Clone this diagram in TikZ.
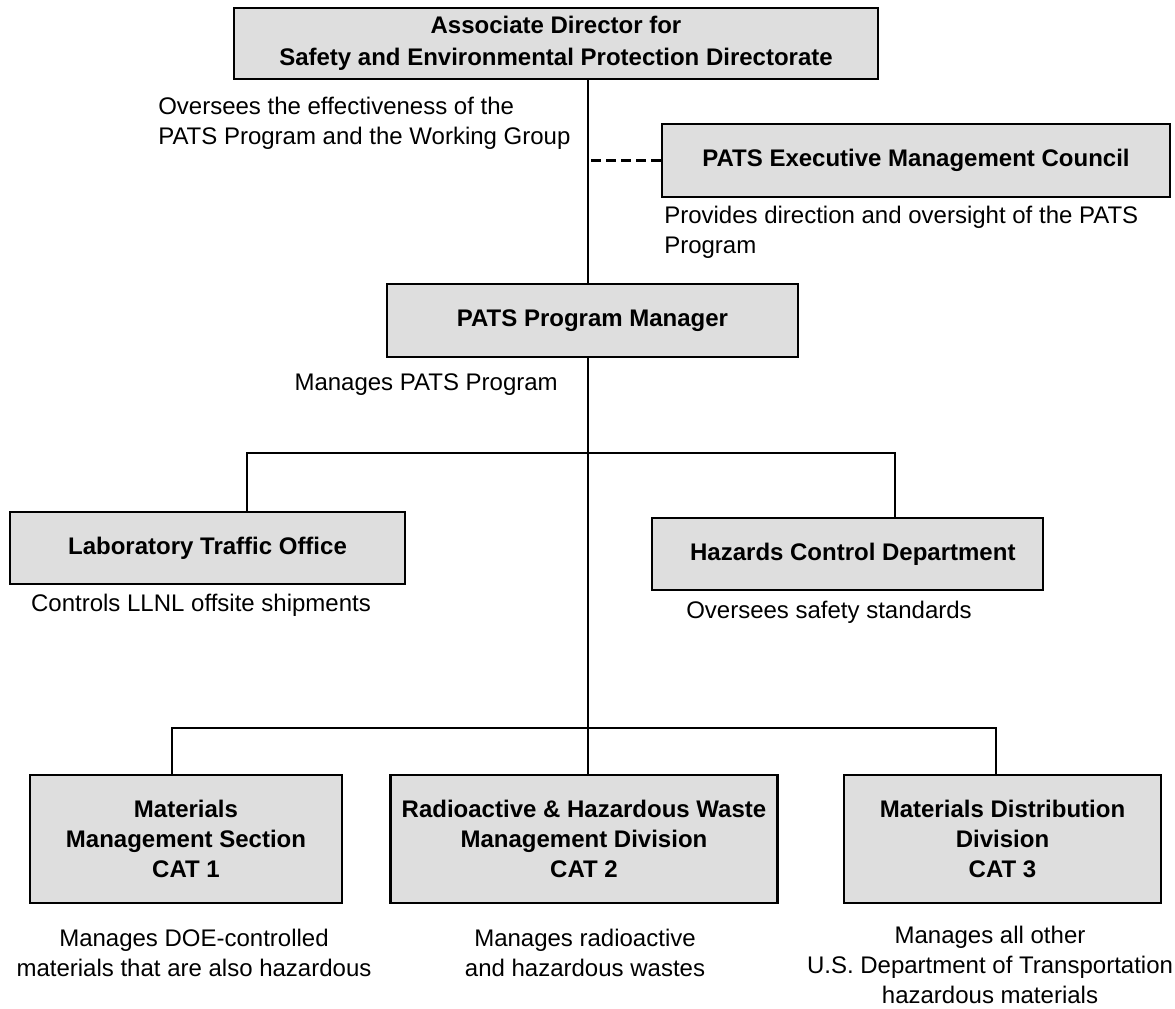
\documentclass[tikz,border=0pt]{standalone}
\usepackage{fontspec}
\setmainfont{Liberation Sans}
\definecolor{boxgray}{RGB}{222,222,222}
\begin{document}
\begin{tikzpicture}[x=0.75pt,y=-0.75pt,
  box/.style={draw, line width=2.2pt, fill=boxgray, inner sep=0pt, align=center,
    font=\bfseries\fontsize{18}{22.5}\selectfont},
  note/.style={inner sep=0pt, font=\fontsize{18}{22.5}\selectfont},
  conn/.style={line width=2pt},
  dashconn/.style={line width=2pt, dash pattern=on 7.5pt off 3.75pt}]
\useasboundingbox (0,0) rectangle (1175,1009);

\node[box, minimum width=483pt, minimum height=53.25pt] (top) at (556,43.5)
  {Associate Director for\\[1.5pt]Safety and Environmental Protection Directorate};
\node[box, minimum width=381pt, minimum height=54.75pt] (exec) at (916,160.5)
  {PATS Executive Management Council};
\node[box, minimum width=308.25pt, minimum height=54.75pt] (ppm) at (592.5,320.5)
  {PATS Program Manager};
\node[box, minimum width=296.25pt, minimum height=54pt] (lto) at (207.5,548)
  {Laboratory Traffic Office};
\node[box, minimum width=293.25pt, minimum height=54pt] (hcd) at (847.5,554)
  {\hspace*{8pt}Hazards Control Department};
\node[box, minimum width=234pt, minimum height=96pt] (b1) at (186,839)
  {Materials\\Management Section\\CAT 1};
\node[box, minimum width=290pt, minimum height=96pt] (b2) at (584,839)
  {Radioactive \& Hazardous Waste\\Management Division\\CAT 2};
\node[box, minimum width=237.75pt, minimum height=96pt] (b3) at (1002.5,839)
  {Materials Distribution\\Division\\CAT 3};

\node[note, align=left, anchor=west] (n1) at (158,123)
  {Oversees the effectiveness of the\\PATS Program and the Working Group};
\node[note, align=left, anchor=west] (n2) at (664,232)
  {Provides direction and oversight of the PATS\\Program};
\node[note, anchor=east] (n3) at (558,385) {Manages PATS Program};
\node[note] (n4) at (201,605) {Controls LLNL offsite shipments};
\node[note] (n5) at (829,612) {Oversees safety standards};
\node[note, align=center] (n6) at (194,953)
  {Manages DOE-controlled\\materials that are also hazardous};
\node[note, align=center] (n7) at (585,953)
  {Manages radioactive\\and hazardous wastes};
\node[note, align=center] (n8) at (990,965)
  {Manages all other\\U.S. Department of Transportation\\hazardous materials};

\coordinate (sx) at (588,0);
\coordinate (l1) at (247,453);
\coordinate (h1) at (895,453);
\coordinate (c1) at (172,728);
\coordinate (c3) at (996,728);

\draw[conn] (top.south -| sx) -- (ppm.north -| sx);
\draw[conn] (ppm.south -| sx) -- (b2.north -| sx);
\draw[dashconn] (exec.west) -- (exec.west -| sx);
\draw[conn] (lto.north -| l1) -- (l1) -- (h1) -- (hcd.north -| h1);
\draw[conn] (b1.north -| c1) -- (c1) -- (c3) -- (b3.north -| c3);
\end{tikzpicture}
\end{document}
